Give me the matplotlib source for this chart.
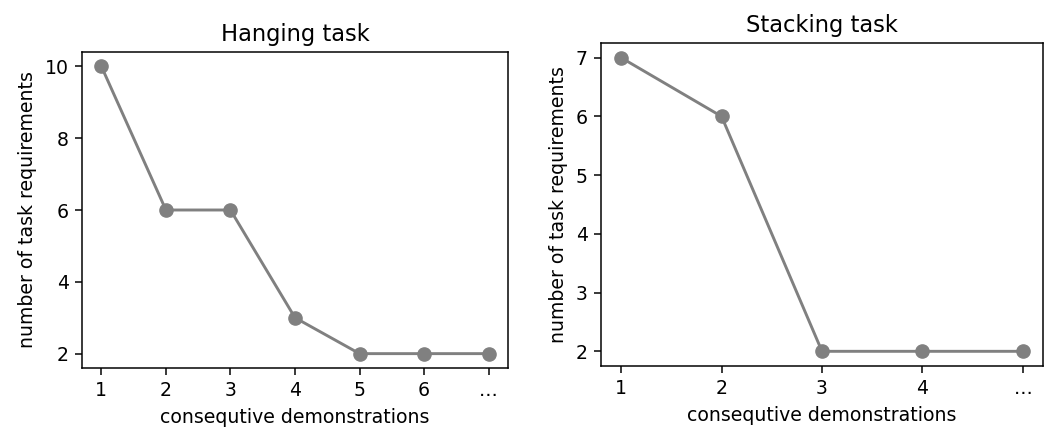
import matplotlib
matplotlib.use("Agg")
from matplotlib import pyplot as plt

hang_ticks = ["1", "2", "3", "4", "5", "6", "…"]
hang_vals = [10, 6, 6, 3, 2, 2, 2]
hang_yticks = [2, 4, 6, 8, 10]

stack_ticks = ["1", "2", "3", "4", "…"]
stack_vals = [7, 6, 2, 2, 2]
stack_yticks = [2, 3, 4, 5, 6, 7]

s = 1.36  # the original was rendered larger than default
plt.rcParams['axes.linewidth'] = 0.8 * s
plt.rcParams['xtick.major.size'] = 3.5 * s
plt.rcParams['ytick.major.size'] = 3.5 * s
plt.rcParams['xtick.major.width'] = 0.8 * s
plt.rcParams['ytick.major.width'] = 0.8 * s

W, H = 1051, 428
fig = plt.figure(figsize=(W / 100, H / 100), dpi=100)
ax1 = fig.add_axes([82 / W, (H - 368) / H, 426 / W, 316 / H])
ax2 = fig.add_axes([601 / W, (H - 366) / H, 442 / W, 323 / H])

for ax, ticks, vals, yt, title in [(ax1, hang_ticks, hang_vals, hang_yticks, "Hanging task"),
                                   (ax2, stack_ticks, stack_vals, stack_yticks, "Stacking task")]:
    xs = list(range(1, len(vals) + 1))
    ax.plot(xs, vals, 'o-', color='gray', markersize=9.5, linewidth=2.1)
    ax.set_xticks(xs)
    ax.set_xticklabels(ticks)
    ax.set_yticks(yt)
    ax.set_title(title, fontsize=12 * s, pad=6 * s)
    ax.set_xlabel('consequtive demonstrations', fontsize=10 * s, labelpad=4 * s)
    ax.set_ylabel('number of task requirements', fontsize=10 * s, labelpad=4 * s)
    ax.tick_params(labelsize=10 * s, pad=3.5 * s)

fig.savefig('out.png', dpi=100)
